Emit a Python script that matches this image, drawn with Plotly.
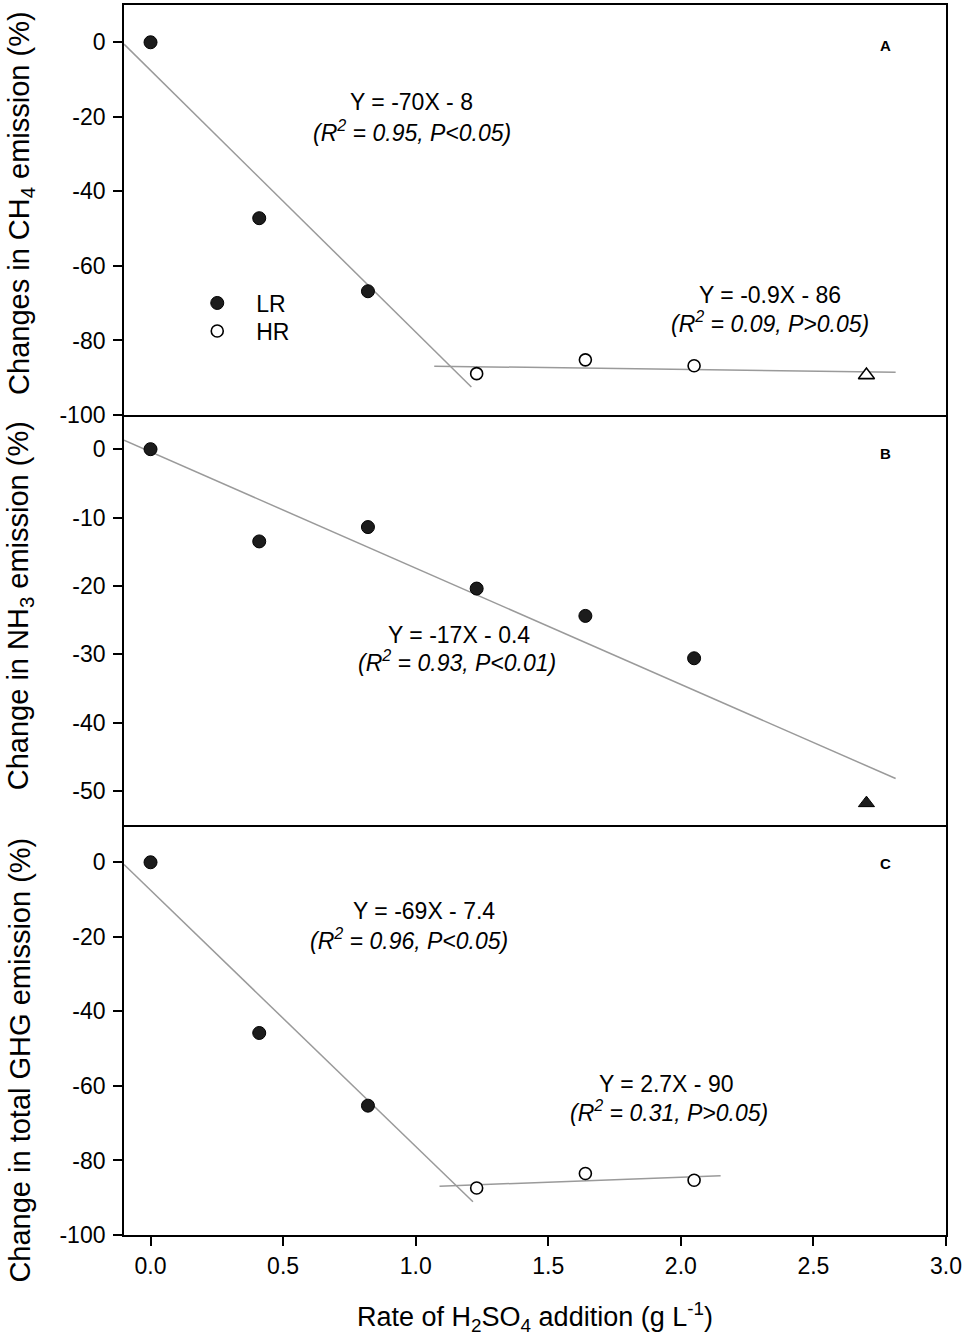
import plotly.graph_objects as go
from plotly.subplots import make_subplots

# ---- data ----
rate_LR = [0.0, 0.41, 0.82]
rate_HR = [1.23, 1.64, 2.05]
rate_tri = [2.70]
rate_all = [0.0, 0.41, 0.82, 1.23, 1.64, 2.05]

ch4_LR = [0.0, -47.2, -66.8]
ch4_HR = [-88.9, -85.2, -86.8]
ch4_tri = [-89.3]

nh3_LR = [0.0, -13.5, -11.4, -20.4, -24.4, -30.6]
nh3_tri = [-51.8]

ghg_LR = [0.0, -45.8, -65.3]
ghg_HR = [-87.4, -83.5, -85.3]

# regression line end points
fitA1_x = [-0.1, 1.21]
fitA1_y = [-0.5, -92.5]
fitA2_x = [1.07, 2.81]
fitA2_y = [-86.9, -88.5]
fitB_x = [-0.1, 2.81]
fitB_y = [1.3, -48.2]
fitC1_x = [-0.1, 1.216]
fitC1_y = [-0.6, -91.1]
fitC2_x = [1.09, 2.15]
fitC2_y = [-86.9, -84.1]

# tick labels
x_ticks = [0, 0.5, 1.0, 1.5, 2.0, 2.5, 3.0]
x_ticktext = ["0.0", "0.5", "1.0", "1.5", "2.0", "2.5", "3.0"]
y100_ticks = [0, -20, -40, -60, -80, -100]
y100_ticktext = ["0", "-20", "-40", "-60", "-80", "-100"]
y50_ticks = [0, -10, -20, -30, -40, -50]
y50_ticktext = ["0", "-10", "-20", "-30", "-40", "-50"]

FONT = "Liberation Sans, Arial, sans-serif"
LINE = dict(color="#9a9a9a", width=1.5)
FILLED = dict(symbol="circle", size=13, color="#1c1c1c", line=dict(color="black", width=1))
OPEN = dict(symbol="circle", size=12, color="white", line=dict(color="black", width=1.6))

fig = make_subplots(rows=3, cols=1, shared_xaxes=True, vertical_spacing=0)

# panel A
fig.add_trace(go.Scatter(x=fitA1_x, y=fitA1_y, mode="lines", line=LINE, showlegend=False), 1, 1)
fig.add_trace(go.Scatter(x=fitA2_x, y=fitA2_y, mode="lines", line=LINE, showlegend=False), 1, 1)
fig.add_trace(go.Scatter(x=rate_LR, y=ch4_LR, mode="markers", marker=FILLED, name="LR",
                         legend="legend"), 1, 1)
fig.add_trace(go.Scatter(x=rate_HR, y=ch4_HR, mode="markers", marker=OPEN, name="HR",
                         legend="legend2"), 1, 1)
fig.add_trace(go.Scatter(x=rate_tri, y=ch4_tri, mode="markers",
                         marker=dict(symbol="triangle-up", size=14, color="white", line=dict(color="black", width=1.6)),
                         showlegend=False), 1, 1)

# panel B
fig.add_trace(go.Scatter(x=fitB_x, y=fitB_y, mode="lines", line=LINE, showlegend=False), 2, 1)
fig.add_trace(go.Scatter(x=rate_all, y=nh3_LR, mode="markers", marker=FILLED, showlegend=False), 2, 1)
fig.add_trace(go.Scatter(x=rate_tri, y=nh3_tri, mode="markers",
                         marker=dict(symbol="triangle-up", size=14, color="#1c1c1c", line=dict(color="black", width=1)),
                         showlegend=False), 2, 1)

# panel C
fig.add_trace(go.Scatter(x=fitC1_x, y=fitC1_y, mode="lines", line=LINE, showlegend=False), 3, 1)
fig.add_trace(go.Scatter(x=fitC2_x, y=fitC2_y, mode="lines", line=LINE, showlegend=False), 3, 1)
fig.add_trace(go.Scatter(x=rate_LR, y=ghg_LR, mode="markers", marker=FILLED, showlegend=False), 3, 1)
fig.add_trace(go.Scatter(x=rate_HR, y=ghg_HR, mode="markers", marker=OPEN, showlegend=False), 3, 1)

axis_common = dict(showline=True, linecolor="black", linewidth=1.8,
                   showgrid=False, zeroline=False)

# top panel draws its top and bottom frame line, the lower ones only their bottom
fig.update_xaxes(axis_common, range=[-0.1, 3.0], mirror=True, row=1, col=1)
fig.update_xaxes(axis_common, range=[-0.1, 3.0], mirror=False, row=2, col=1)
fig.update_xaxes(axis_common, range=[-0.1, 3.0], mirror=False, row=3, col=1)
fig.update_xaxes(showticklabels=False, ticks="", row=1, col=1)
fig.update_xaxes(showticklabels=False, ticks="", row=2, col=1)
fig.update_xaxes(ticks="outside", ticklen=9, tickwidth=1.5, tickcolor="black",
                 tickvals=x_ticks, ticktext=x_ticktext,
                 tickfont=dict(family=FONT, size=23, color="black"),
                 title=dict(text="Rate of H<sub>2</sub>SO<sub>4</sub> addition (g L<sup>-1</sup>)",
                            font=dict(family=FONT, size=27, color="black"), standoff=30),
                 row=3, col=1)

ytick = dict(ticks="outside", ticklen=9, tickwidth=1.5, tickcolor="black",
             ticklabelstandoff=3, tickfont=dict(family=FONT, size=23, color="black"))
fig.update_yaxes(axis_common, **ytick, mirror=True, range=[-100, 10],
                 tickvals=y100_ticks, ticktext=y100_ticktext, row=1, col=1)
fig.update_yaxes(axis_common, **ytick, mirror=True, range=[-55, 5],
                 tickvals=y50_ticks, ticktext=y50_ticktext, row=2, col=1)
fig.update_yaxes(axis_common, **ytick, mirror=True, range=[-100, 10],
                 tickvals=y100_ticks, ticktext=y100_ticktext, row=3, col=1)

# y titles as rotated annotations so each can sit where the original has it
ytitle_font = dict(family=FONT, size=29, color="black")
for yv, t in ((0.8393, "Changes in CH<sub>4</sub> emission (%)"),
              (0.5114, "Change in NH<sub>3</sub> emission (%)"),
              (0.142, "Change in total GHG emission (%)")):
    fig.add_annotation(xref="paper", yref="paper", x=-0.1262, y=yv, text=t, textangle=-90,
                       showarrow=False, xanchor="center", yanchor="middle", font=ytitle_font)

txt = dict(family=FONT, size=23, color="black")
notes = [
    ("x", "y", 0.986, -16.0, "Y = -70X - 8"),
    ("x", "y", 0.986, -23.8, "<i>(R<sup>2</sup> = 0.95, P&lt;0.05)</i>"),
    ("x", "y", 2.338, -67.8, "Y = -0.9X - 86"),
    ("x", "y", 2.338, -75.0, "<i>(R<sup>2</sup> = 0.09, P&gt;0.05)</i>"),
    ("x2", "y2", 1.163, -27.2, "Y = -17X - 0.4"),
    ("x2", "y2", 1.156, -31.0, "<i>(R<sup>2</sup> = 0.93, P&lt;0.01)</i>"),
    ("x3", "y3", 1.032, -13.1, "Y = -69X - 7.4"),
    ("x3", "y3", 0.975, -20.6, "<i>(R<sup>2</sup> = 0.96, P&lt;0.05)</i>"),
    ("x3", "y3", 1.943, -59.6, "Y = 2.7X - 90"),
    ("x3", "y3", 1.955, -66.6, "<i>(R<sup>2</sup> = 0.31, P&gt;0.05)</i>"),
]
for xr, yr, xv, yv, t in notes:
    fig.add_annotation(xref=xr, yref=yr, x=xv, y=yv, text=t, showarrow=False, font=txt)

for yr, yv, lab in (("y", -0.8, "A"), ("y2", -0.6, "B"), ("y3", -0.3, "C")):
    fig.add_annotation(xref="x", yref=yr, x=2.77, y=yv, text="<b>%s</b>" % lab,
                       showarrow=False, font=dict(family=FONT, size=15, color="black"))

leg = dict(x=0.066, xanchor="left", yanchor="top", font=dict(family=FONT, size=23, color="black"),
           bgcolor="rgba(0,0,0,0)", itemwidth=68)
fig.update_layout(
    width=965, height=1339,
    margin=dict(l=124, r=17, t=3, b=104),
    paper_bgcolor="white", plot_bgcolor="white",
    showlegend=True,
    legend=dict(leg, y=0.7752),
    legend2=dict(leg, y=0.7524),
)

fig.write_html("out.html", config={"displayModeBar": False},
               post_script="document.body.style.margin='0';")
